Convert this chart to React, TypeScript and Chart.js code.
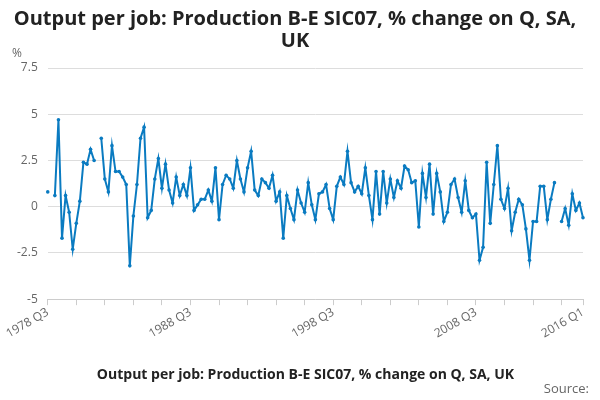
import React, { useEffect, useRef } from "react";
import { Chart, registerables } from "chart.js";
Chart.register(...registerables);

const startYear = 1978;
const startQuarter = 3;
const values: (number | null)[] = [
  0.8, null, 0.6, 4.7, -1.7, 0.6, -0.3, -2.3, -0.9, 0.3,
  2.4, 2.3, 3.1, 2.5, null, 3.7, 1.5, 0.8, 3.3, 1.9,
  1.9, 1.6, 1.2, -3.2, -0.5, 1.2, 3.7, 4.3, -0.6, -0.2,
  1.5, 2.6, 1.0, 2.3, 0.9, 0.2, 1.6, 0.6, 1.2, 0.6,
  2.1, -0.2, 0.1, 0.4, 0.4, 0.9, 0.3, 2.1, -0.7, 1.2,
  1.7, 1.5, 1.0, 2.5, 1.5, 0.8, 2.1, 3.0, 0.9, 0.6,
  1.5, 1.3, 1.0, 1.7, 0.3, 0.8, -1.7, 0.6, -0.1, -0.7,
  0.9, 0.2, -0.3, 1.3, 0.1, -0.7, 0.7, 0.8, 1.2, -0.1,
  -0.7, 1.1, 1.6, 1.2, 3.0, 1.3, 0.8, 1.1, 0.7, 2.1,
  0.6, -0.7, 1.9, -0.4, 1.9, 0.2, 1.5, 0.5, 1.4, 1.0,
  2.2, 2.0, 1.3, 1.4, -1.1, 1.8, 0.5, 2.3, -0.4, 1.8,
  0.8, -0.8, -0.3, 1.2, 1.5, 0.5, -0.3, 1.4, -0.2, -0.6,
  -0.4, -2.9, -2.2, 2.4, -0.9, 1.2, 3.3, 0.4, -0.1, 1.0,
  -1.3, -0.3, 0.4, 0.1, -1.2, -2.9, -0.8, -0.8, 1.1, 1.1,
  -0.7, 0.4, 1.3, null, -0.8, -0.1, -1.0, 0.7, -0.2, 0.2,
  -0.6,
];
const categories: string[] = values.map((_, i) => {
  const q = startQuarter - 1 + i;
  return `${startYear + Math.floor(q / 4)} Q${(q % 4) + 1}`;
});
const shownTicks: string[] = ["1978 Q3", "1988 Q3", "1998 Q3", "2008 Q3", "2016 Q1"];
const yTicks: number[] = [-5, -2.5, 0, 2.5, 5, 7.5];
const seriesLabel = "Output per job: Production B-E SIC07, % change on Q, SA, UK";
const titleLines = ["Output per job: Production B-E SIC07, % change on Q, SA,", "UK"];

const BLUE = "#0a7bc1";
const FONT = "'Open Sans', 'DejaVu Sans', sans-serif";

export default function App() {
  const ref = useRef<HTMLCanvasElement>(null);
  useEffect(() => {
    const chart = new Chart(ref.current!, {
      type: "line",
      data: {
        labels: categories,
        datasets: [
          {
            label: seriesLabel,
            data: values,
            borderColor: BLUE,
            backgroundColor: BLUE,
            borderWidth: 2,
            pointRadius: 1.8,
            pointBackgroundColor: BLUE,
            pointBorderWidth: 0,
            spanGaps: false,
            tension: 0,
          },
        ],
      },
      options: {
        animation: false,
        responsive: true,
        maintainAspectRatio: false,
        layout: { padding: { left: 7, right: 17, top: 0, bottom: 8 } },
        plugins: {
          title: {
            display: true,
            text: titleLines,
            color: "#222",
            font: { family: FONT, size: 20, weight: "bold", lineHeight: 1.1 },
            padding: { top: 8, bottom: 16 },
          },
          legend: {
            position: "bottom",
            labels: {
              usePointStyle: true,
              pointStyle: "line",
              color: "#222",
              font: { family: FONT, size: 14, weight: "bold" },
              boxWidth: 22,
              padding: 20,
            },
          },
          tooltip: { enabled: false },
        },
        scales: {
          x: {
            afterFit: (s: any) => {
              s.height += 7;
            },
            grid: {
              drawOnChartArea: false,
              drawTicks: true,
              tickLength: 6,
              color: (ctx: any) =>
                ctx.index % 8 === 0 || ctx.index === categories.length - 1 ? "#ccc" : "rgba(0,0,0,0)",
            },
            border: { color: "#ccc" },
            ticks: {
              autoSkip: false,
              minRotation: 30,
              maxRotation: 30,
              padding: 0,
              color: "#666",
              font: { family: FONT, size: 12 },
              callback: (v: any, i: number) =>
                shownTicks.includes(categories[i]) ? categories[i] : "",
            },
          },
          y: {
            min: -5,
            max: 7.5,
            afterBuildTicks: (axis: any) => {
              axis.ticks = yTicks.map((v) => ({ value: v }));
            },
            grid: { color: "#ddd", drawTicks: false },
            border: { display: false },
            ticks: {
              color: "#666",
              padding: 10,
              font: { family: FONT, size: 12 },
              callback: (v: any) => String(v),
            },
          },
        },
      },
    });
    return () => chart.destroy();
  }, []);
  return (
    <div style={{ position: "absolute", left: 0, top: 0, width: 600, height: 400, fontFamily: FONT }}>
      <canvas ref={ref} />
      <span style={{ position: "absolute", left: 12, top: 44, fontSize: 12, color: "#666" }}>%</span>
      <span style={{ position: "absolute", right: 11, top: 379, fontSize: 13, color: "#666" }}>Source:</span>
    </div>
  );
}
